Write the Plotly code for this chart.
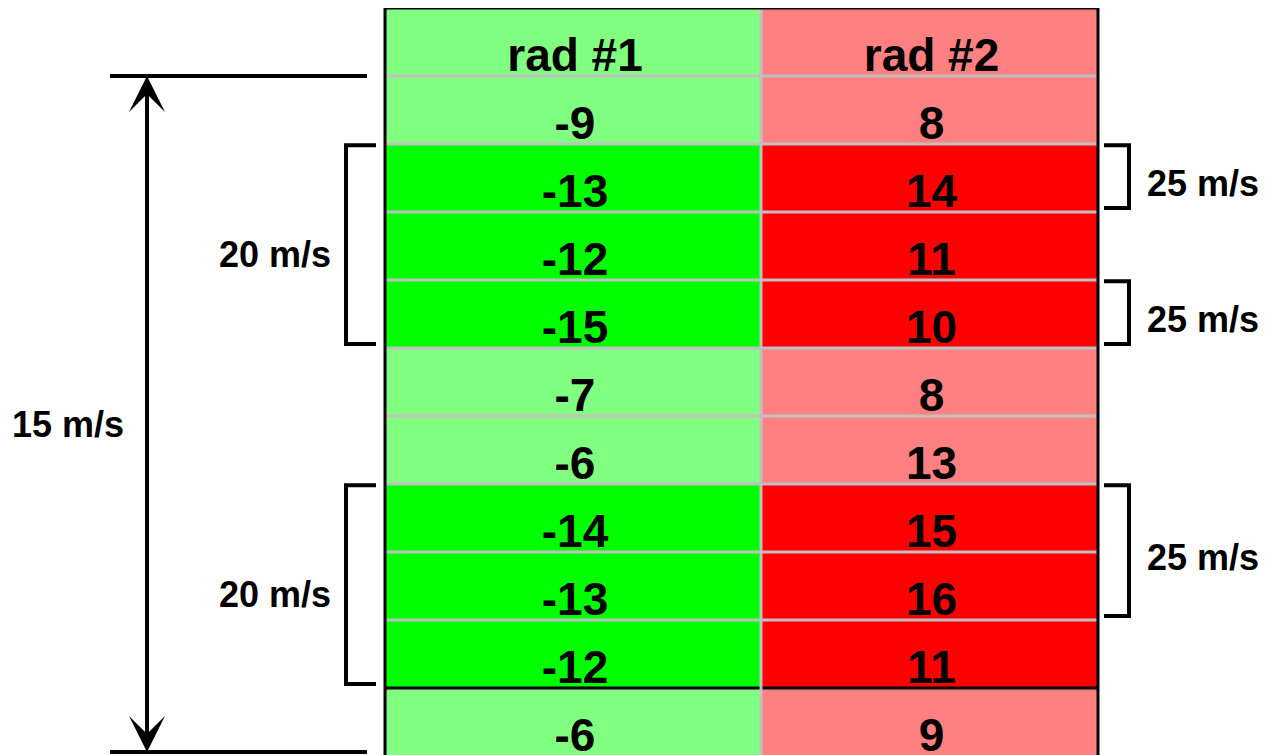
import plotly.graph_objects as go

# ---------------- data ----------------
columns = ["rad #1", "rad #2"]
rad1 = [-9, -13, -12, -15, -7, -6, -14, -13, -12, -6]
rad2 = [8, 14, 11, 10, 8, 13, 15, 16, 11, 9]
highlight = [False, True, True, True, False, False, True, True, True, False]
# bracket groups: (first row, last row, label); row 0 is the header
left_groups = [(2, 4, "20 m/s"), (7, 9, "20 m/s")]
right_groups = [(2, 2, "25 m/s"), (4, 4, "25 m/s"), (7, 8, "25 m/s")]
span_rows = (1, 10)
span_label = "15 m/s"

# ---------------- styling / layout constants ----------------
OFF = 8                      # page body margin of the browser
W, H = 1278 - OFF, 755 - OFF
col_edges = [385, 761, 1098]
row_px, top_px = 68.0, 8.0
y_top = -0.5 - (top_px - OFF) / row_px
y_bot = y_top + H / row_px
pal = ["#80FF80", "#00FF00", "#FF8080", "#FF0000"]
FONT = "Liberation Sans, Arial, sans-serif"

n_rows = len(rad1) + 1
z = [[0, 2]] + [[1 if h else 0, 3 if h else 2] for h in highlight]
colorscale = [[i / 3, c] for i, c in enumerate(pal)]

fig = go.Figure()
fig.add_trace(go.Heatmap(
    z=z, x=col_edges, y=list(range(n_rows)),
    colorscale=colorscale, zmin=0, zmax=3, showscale=False, hoverinfo="skip",
))

centers = [(col_edges[i] + col_edges[i + 1]) / 2 for i in range(2)]
for ci, vals in enumerate([rad1, rad2]):
    texts = [columns[ci]] + [str(v) for v in vals]
    fig.add_trace(go.Scatter(
        x=[centers[ci] + 2] * n_rows, y=[r + 0.25 for r in range(n_rows)],
        mode="text", text=texts, textposition="middle center",
        textfont=dict(family=FONT, size=46, color="black", weight="bold"),
        hoverinfo="skip", showlegend=False, cliponaxis=False,
    ))

shapes = []
# grid lines
for r in range(n_rows - 1):
    yb = r + 0.5
    black = (r == n_rows - 2)
    shapes.append(dict(type="line", xref="x", yref="y", x0=col_edges[0], x1=col_edges[-1],
                       y0=yb, y1=yb, line=dict(color="black" if black else "#C0C0C0", width=3)))
shapes.append(dict(type="line", xref="x", yref="y", x0=col_edges[1], x1=col_edges[1],
                   y0=-0.5, y1=y_bot, line=dict(color="#C0C0C0", width=3)))
# outer border
shapes.append(dict(type="line", xref="x", yref="y", x0=col_edges[0], x1=col_edges[-1],
                   y0=-0.5, y1=-0.5, line=dict(color="black", width=3)))
for xe in (col_edges[0], col_edges[-1]):
    shapes.append(dict(type="line", xref="x", yref="y", x0=xe, x1=xe,
                       y0=-0.5, y1=y_bot, line=dict(color="black", width=3)))

annotations = []
lab_font = dict(family=FONT, size=36, color="black", weight="bold")

# left brackets
xl_v, xl_t = 346, 376
for a, b, lab in left_groups:
    y0, y1 = a - 0.5 + 0.02, b + 0.5 - 0.06
    shapes.append(dict(type="path", xref="x", yref="y",
                       path=f"M {xl_t},{y0} L {xl_v},{y0} L {xl_v},{y1} L {xl_t},{y1}",
                       line=dict(color="black", width=4)))
    annotations.append(dict(x=275, y=(a + b) / 2 + 0.12, xref="x", yref="y", text=lab,
                            showarrow=False, font=lab_font))

# right brackets
xr_v, xr_t = 1129, 1104
for a, b, lab in right_groups:
    y0, y1 = a - 0.5 + 0.02, b + 0.5 - 0.06
    shapes.append(dict(type="path", xref="x", yref="y",
                       path=f"M {xr_t},{y0} L {xr_v},{y0} L {xr_v},{y1} L {xr_t},{y1}",
                       line=dict(color="black", width=4)))
    annotations.append(dict(x=1203, y=(a + b) / 2 + 0.08, xref="x", yref="y", text=lab,
                            showarrow=False, font=lab_font))

# overall dimension arrow
x_arr = 147
ya, yb_ = span_rows[0] - 0.5, span_rows[1] + 0.5 - 0.06
for yy in (ya, yb_):
    shapes.append(dict(type="line", xref="x", yref="y", x0=110, x1=367, y0=yy, y1=yy,
                       line=dict(color="black", width=4)))
ymid = (ya + yb_) / 2
for yy, tail in ((ya, ymid + 0.8), (yb_, ymid - 0.8)):
    annotations.append(dict(x=x_arr, y=yy, ax=x_arr, ay=tail, xref="x", yref="y",
                            axref="x", ayref="y", text="", showarrow=True,
                            arrowhead=3, arrowsize=1.5, arrowwidth=4, arrowcolor="black",
                            standoff=0, startstandoff=0))
annotations.append(dict(x=68, y=ymid + 0.15, xref="x", yref="y", text=span_label,
                        showarrow=False, font=lab_font))

fig.update_layout(
    width=W, height=H, autosize=False,
    margin=dict(l=0, r=0, t=0, b=0, pad=0),
    paper_bgcolor="white", plot_bgcolor="white",
    xaxis=dict(range=[OFF, OFF + W], visible=False, fixedrange=True),
    yaxis=dict(range=[y_bot, y_top], visible=False, fixedrange=True),
    shapes=shapes, annotations=annotations, showlegend=False,
)
fig.write_html("out.html")
